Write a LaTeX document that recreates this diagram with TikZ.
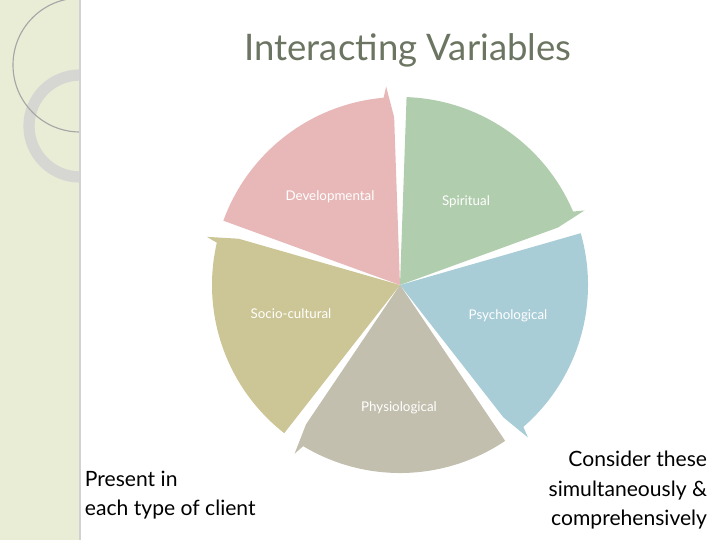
\documentclass[tikz,border=0pt]{standalone}
\usepackage{fontspec}
\setmainfont{Lato}
\usetikzlibrary{positioning,calc}
\definecolor{stripbg}{HTML}{E9EDD6}
\definecolor{ringgray}{HTML}{D6D6D2}
\definecolor{titlegray}{HTML}{6B7561}
\definecolor{wgreen}{HTML}{B0CDAD}
\definecolor{wblue}{HTML}{A9CDD7}
\definecolor{wtaupe}{HTML}{C2BFAE}
\definecolor{wolive}{HTML}{CCC595}
\definecolor{wpink}{HTML}{E8B8B8}
\tikzset{
  wedgelabel/.style={text=white,font=\fontsize{9.5}{11}\selectfont},
  sidetext/.style={font=\fontsize{15}{21}\selectfont,align=left}
}
\begin{document}
\begin{tikzpicture}[x=0.025cm,y=-0.025cm]
\useasboundingbox (0,0) rectangle (720,540);

% side strip
\fill[stripbg] (0,0) rectangle (80,540);
\begin{scope}
  \clip (0,0) rectangle (80,540);
  \draw[ringgray,line width=8pt] (80,126) circle (51);
  \draw[gray!70,line width=0.8pt] (80,65) circle (67);
\end{scope}
\fill[gray!35] (79,0) rectangle (81,540);

\node[text=titlegray,font=\fontsize{26}{30}\selectfont] (title) at (408,50) {Interacting Variables};

% cycle of wedges (y points down, so angles are negated)
\coordinate (c) at (400,285);
\foreach \s/\col in {-88/wgreen,-16/wblue,56/wtaupe,128/wolive,200/wpink}{
  \pgfmathsetmacro{\e}{\s+68}
  \pgfmathsetmacro{\m}{\s+34}
  \begin{scope}[shift={(\m:7)}]
    \fill[\col] (c) -- ++(\s:188) arc[start angle=\s,end angle=\e-3,radius=188]
      -- ($(c)+(\e-2:199)$) -- ($(c)+(\e:168)$) -- cycle;
  \end{scope}
}

\node[wedgelabel] (spiritual) at (466,202) {Spiritual};
\node[wedgelabel] (psychological) at (508,316) {Psychological};
\node[wedgelabel] (physiological) at (399,408) {Physiological};
\node[wedgelabel] (sociocultural) at (291,314) {Socio-cultural};
\node[wedgelabel] (developmental) at (330,197) {Developmental};

\node[sidetext,anchor=north west] (present) at (80,466) {Present in\\each type of client};
\node[sidetext,align=right,anchor=north east] (consider) at (712,446) {Consider these\\simultaneously \&\\comprehensively};
\end{tikzpicture}
\end{document}
